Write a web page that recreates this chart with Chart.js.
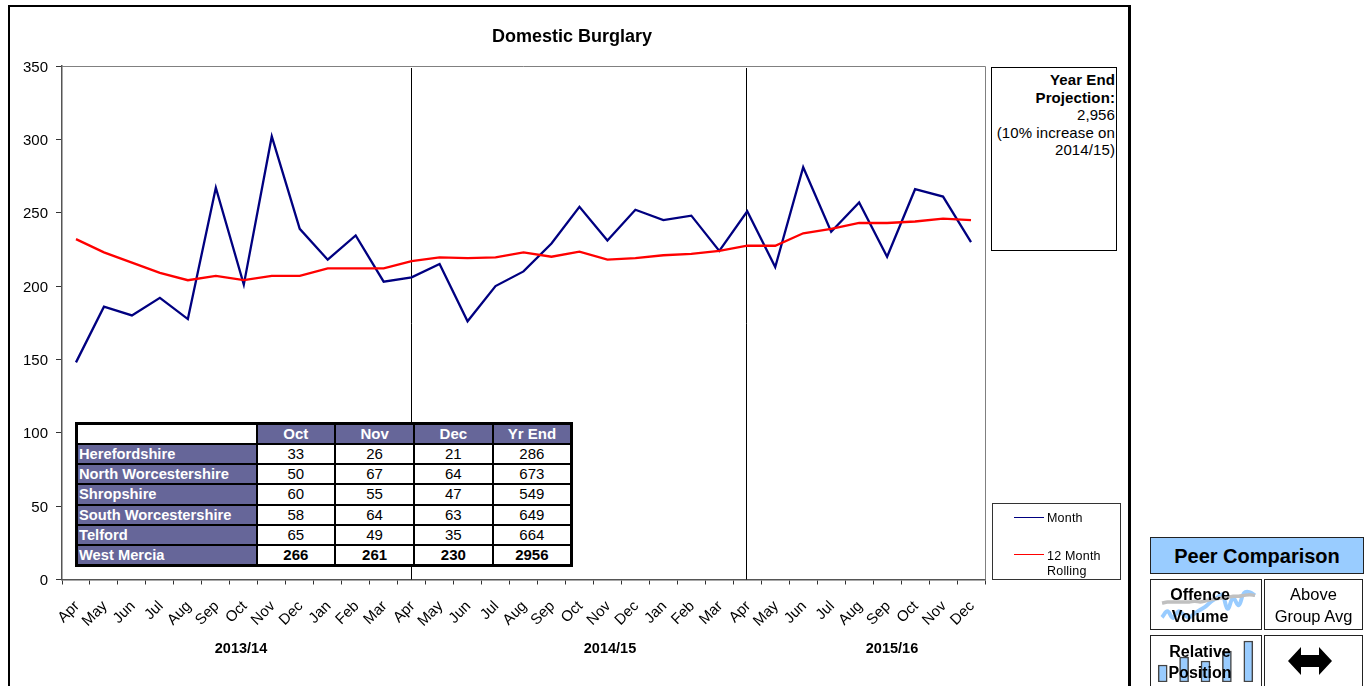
<!DOCTYPE html>
<html><head><meta charset="utf-8">
<script src="https://cdn.jsdelivr.net/npm/chart.js@4"></script>
<style>
html,body{margin:0;padding:0;background:#fff;width:1365px;height:686px;overflow:hidden;font-family:"Liberation Sans",Arial,sans-serif;color:#000}
.a{position:absolute;box-sizing:border-box}
#frame{left:8px;top:5px;width:1123px;height:700px;border:2.5px solid #000;border-right-width:3px}
#main{left:0;top:0;width:1365px;height:686px}
#title{left:372px;width:400px;top:26px;text-align:center;font-weight:bold;font-size:18px;line-height:21px}
.yr{font-weight:bold;font-size:14.5px;width:100px;text-align:center;top:639.5px;line-height:16px}
#proj{left:991px;top:67px;width:126px;height:184px;border:1px solid #000;background:#fff;text-align:right;font-size:15px;line-height:17.5px;padding:3px 1px 0 2px;letter-spacing:.1px;white-space:nowrap}
#leg{left:992px;top:503px;width:129px;height:77px;border:1px solid #333;background:#fff;font-size:12.5px}
#leg i{position:absolute;left:21px;width:30px;height:1.4px}
#leg span{position:absolute;left:54px;line-height:15px;letter-spacing:.2px}
table{position:absolute;left:75px;top:422px;border-collapse:collapse;table-layout:fixed;width:498px;height:145px;font-size:15px;background:#fff;border:3px solid #000}
td{border:2px solid #000;padding:0;text-align:center;line-height:14px}
td.h{background:#666699;color:#fff;font-weight:bold}
td.l{background:#666699;color:#fff;font-weight:bold;text-align:left;padding-left:1px;white-space:nowrap;font-size:14.7px}
tr.t td:not(.l){font-weight:bold}
.box{border:1.5px solid #222;background:#fff;text-align:center}
#peer{left:1150px;top:537px;width:214px;height:37px;background:#99CCFF;font-weight:bold;font-size:20px;line-height:37px;border:1.5px solid #222}
.lab{font-weight:bold;text-align:center;font-size:16px}
</style></head><body>
<canvas id="main" class="a" width="1365" height="686"></canvas>
<div id="frame" class="a"></div>
<div id="title" class="a"></div>
<div id="yrs"></div>
<div id="proj" class="a"></div>
<div id="leg" class="a">
<i style="top:13px;background:#000080"></i><span style="top:7px" id="l1"></span>
<i style="top:50px;background:#ff0000"></i><span style="top:45px" id="l2"></span>
</div>
<table id="tb"></table>
<div id="peer" class="a box"></div>
<div class="a box" style="left:1150px;top:579px;width:112px;height:51px"></div>
<div class="a box" style="left:1264px;top:579px;width:99px;height:51px;font-size:16.5px;line-height:22px;padding-top:3px" id="above"></div>
<div class="a box" style="left:1150px;top:635px;width:112px;height:60px"></div>
<div class="a box" style="left:1264px;top:635px;width:99px;height:60px"></div>
<canvas id="spark" class="a" style="left:1155px;top:582px;width:104px;height:44px" width="104" height="44"></canvas>
<canvas id="bars" class="a" style="left:1152px;top:638px;width:107px;height:44px" width="107" height="44"></canvas>
<div class="a lab" style="left:1150px;top:584px;width:100px;line-height:22px" id="lab1"></div>
<div class="a lab" style="left:1150px;top:641px;width:100px;line-height:21px" id="lab2"></div>
<svg class="a" style="left:1287px;top:646px" width="46" height="30"><path d="M1 15 L14 1 L14 9 L32 9 L32 1 L45 15 L32 29 L32 21 L14 21 L14 29 Z" fill="#000"/></svg>
<script>
const months=["Apr","May","Jun","Jul","Aug","Sep","Oct","Nov","Dec","Jan","Feb","Mar","Apr","May","Jun","Jul","Aug","Sep","Oct","Nov","Dec","Jan","Feb","Mar","Apr","May","Jun","Jul","Aug","Sep","Oct","Nov","Dec"];
const monthValues=[148,186,180,192,177.5,267,201,302,239,218,234.5,203,206,215,176,200,210,229,254,231,252,245,248,224,251,213,281,237,257,220,266,261,230];
const rollingValues=[232,223,216,209,204,207,204,207,207,212,212,212,217,219.5,219,219.5,223,220,223.5,218,219,221,222,224,227.5,227.5,236,239,243,243,244,246,245];
const yearStartIndexes=[12,24];
const yearLabels=["2013/14","2014/15","2015/16"];
const yearCentres=[241,610,892];
const tableHead=["","Oct","Nov","Dec","Yr End"];
const tableAreas=["Herefordshire","North Worcestershire","Shropshire","South Worcestershire","Telford","West Mercia"];
const tableOct=[33,50,60,58,65,266];
const tableNov=[26,67,55,64,49,261];
const tableDec=[21,64,47,63,35,230];
const tableYrEnd=[286,673,549,649,664,2956];
const sparkVolume=[4.7,8,4.4,8,6.2,4.7,7,8.9,10.7,13.4,15.3,17.1,9.4,15.3,11.3,18,18.5,16.7];
const sparkAverage=[12.5,13.1,13.1,13.1,13.1,13.1,13.5,13.1,13.8,14.4,14.9,15.3,15.6,16.2,16.2,16.7,17.1,16.7];
const peerBars=[17,25,21,31,41];

document.getElementById('title').textContent='Domestic Burglary';
document.getElementById('proj').innerHTML='<b>Year End<br>Projection:</b><br>2,956<br>(10% increase on<br>2014/15)';
document.getElementById('l1').textContent='Month';
document.getElementById('l2').innerHTML='12 Month<br>Rolling';
document.getElementById('peer').textContent='Peer Comparison';
document.getElementById('above').innerHTML='Above<br>Group Avg';
document.getElementById('lab1').innerHTML='Offence<br>Volume';
document.getElementById('lab2').innerHTML='Relative<br>Position';
yearLabels.forEach((t,i)=>{const d=document.createElement('div');d.className='a yr';d.style.left=(yearCentres[i]-50)+'px';d.textContent=t;document.getElementById('yrs').appendChild(d);});
let h='<tr>'+tableHead.map((t,i)=>'<td class="'+(i?'h':'')+'">'+t+'</td>').join('')+'</tr>';
tableAreas.forEach((a,i)=>{h+='<tr class="'+(i==5?'t':'')+'"><td class="l">'+a+'</td><td>'+tableOct[i]+'</td><td>'+tableNov[i]+'</td><td>'+tableDec[i]+'</td><td>'+tableYrEnd[i]+'</td></tr>';});
document.getElementById('tb').innerHTML='<colgroup><col style="width:180px"><col><col><col><col></colgroup>'+h;

const plotFrame={id:'plotFrame',
 beforeDatasetsDraw(c){const a=c.chartArea,g=c.ctx;g.save();g.strokeStyle='#808080';g.lineWidth=1;g.beginPath();
  g.moveTo(a.left,a.top+.5);g.lineTo(a.right+.5,a.top+.5);g.lineTo(a.right+.5,a.bottom);g.stroke();
  g.strokeStyle='#000';g.beginPath();
  yearStartIndexes.forEach(i=>{const x=Math.round(c.scales.x.getPixelForValue(i))-.5;g.moveTo(x,a.top+2);g.lineTo(x,a.bottom);});
  g.stroke();g.restore();}};
new Chart(document.getElementById('main'),{type:'line',plugins:[plotFrame],
 data:{labels:months,datasets:[
  {label:'12 Month Rolling',data:rollingValues,borderColor:'#ff0000',borderWidth:2.3,pointRadius:0,tension:0},
  {label:'Month',data:monthValues,borderColor:'#000080',borderWidth:2.3,pointRadius:0,tension:0}]},
 options:{responsive:false,animation:false,events:[],
  layout:{padding:{left:0,top:66,right:380,bottom:0}},
  plugins:{legend:{display:false},title:{display:false},tooltip:{enabled:false}},
  scales:{
   x:{type:'category',offset:true,afterFit(s){s.height=106.5;},
     grid:{offset:true,drawOnChartArea:false,color:'#333',tickLength:5,tickColor:'#333'},border:{color:'#555',width:1.5},
     ticks:{autoSkip:false,maxRotation:45,minRotation:45,color:'#000',font:{family:'"Liberation Sans"',size:15},padding:13,labelOffset:1}},
   y:{min:0,max:350,afterFit(s){s.width=62;},
     grid:{drawOnChartArea:false,color:'#333',tickLength:6,tickColor:'#333'},border:{color:'#555',width:1.5},
     ticks:{stepSize:50,color:'#000',font:{family:'"Liberation Sans"',size:15},padding:8,labelOffset:1.5}}
  }}});
new Chart(document.getElementById('spark'),{type:'line',
 data:{labels:sparkVolume.map((_,i)=>i),datasets:[
  {data:sparkAverage,borderColor:'#C0C0C0',borderWidth:3.5,pointRadius:0,tension:.3},
  {data:sparkVolume,borderColor:'#99CCFF',borderWidth:4,pointRadius:0,tension:.4}]},
 options:{responsive:false,animation:false,events:[],layout:{padding:{left:7,right:4}},plugins:{legend:{display:false},tooltip:{enabled:false}},
  scales:{x:{display:false},y:{display:false,min:0,max:24}}}});
new Chart(document.getElementById('bars'),{type:'bar',
 data:{labels:peerBars.map((_,i)=>i),datasets:[{data:peerBars,backgroundColor:'#99CCFF',borderColor:'#444',borderWidth:1.5,borderSkipped:false,barThickness:9}]},
 options:{responsive:false,animation:false,events:[],plugins:{legend:{display:false},tooltip:{enabled:false}},
  scales:{x:{display:false},y:{display:false,min:0,max:44}}}});
</script></body></html>
